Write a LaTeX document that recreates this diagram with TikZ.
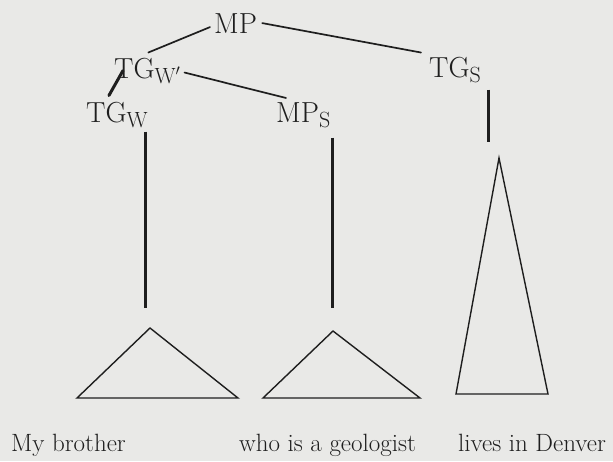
\RequirePackage{fix-cm}
\documentclass[tikz,border=0pt]{standalone}
\usepackage{tikz}
\usetikzlibrary{calc}
\definecolor{paper}{RGB}{233,233,231}
\definecolor{ink}{RGB}{30,30,30}
\newcommand{\lsub}[1]{\raisebox{-5pt}{\fontsize{22}{22}\selectfont #1}}
\tikzset{
  cat/.style={inner sep=0pt, anchor=base west, text=ink, font=\fontsize{29}{32}\selectfont},
  leaf/.style={inner sep=0pt, anchor=base west, text=ink, font=\fontsize{25}{28}\selectfont},
  branch/.style={draw=ink, line width=1.7pt, line cap=round},
  stem/.style={draw=ink, line width=3pt},
  tri/.style={draw=ink, line width=1.4pt, line join=miter},
}

\begin{document}
\begin{tikzpicture}[x=1pt, y=-1pt]
  \fill[paper] (0,0) rectangle (613,461);
  \useasboundingbox (0,0) rectangle (613,461);
  % category labels
  \node[cat] (mp) at (214,33) {MP};
  \node[cat] (tgwp) at (114,78) {TG\lsub{W$'$}};
  \node[cat] (tgw) at (86,122) {TG\lsub{W}};
  \node[cat] (mps) at (276,122) {MP\lsub{S}};
  \node[cat] (tgs) at (429,77) {TG\lsub{S}};
  % words
  \node[leaf] (brother) at (11,451) {My brother};
  \node[leaf] (geologist) at (239,451) {who is a geologist};
  \node[leaf] (denver) at (458,451) {lives in Denver};
  % branches
  \draw[branch] ($(mp.west)+(-4,4)$) -- ($(tgwp.north)+(1,-5)$);
  \draw[branch] ($(mp.east)+(5,0)$) -- ($(tgs.north west)+(-8,-4)$);
  \draw[branch] ($(tgwp.east)+(4,2)$) -- ($(mps.north west)+(10,-4)$);
  \draw[stem, line cap=round] ($(tgw.north)+(-8,-6)$) -- ($(tgwp.west)+(9,0)$);
  % stems down to the triangles
  \coordinate (w-end) at (145,308);
  \coordinate (s-end) at (332,308);
  \coordinate (v-end) at (488,142);
  \draw[stem] (tgw.south -| w-end) ++(0,4) -- (w-end);
  \draw[stem] (mps.south -| s-end) ++(0,10) -- (s-end);
  \draw[stem] (tgs.south -| v-end) ++(0,7) -- (v-end);
  % triangles
  \draw[tri] (150,328) -- (77,398) -- (238,398) -- cycle;
  \draw[tri] (333,331) -- (263,398) -- (420,398) -- cycle;
  \draw[tri] (499,158) -- (456,394) -- (548,394) -- cycle;
\end{tikzpicture}
\end{document}
